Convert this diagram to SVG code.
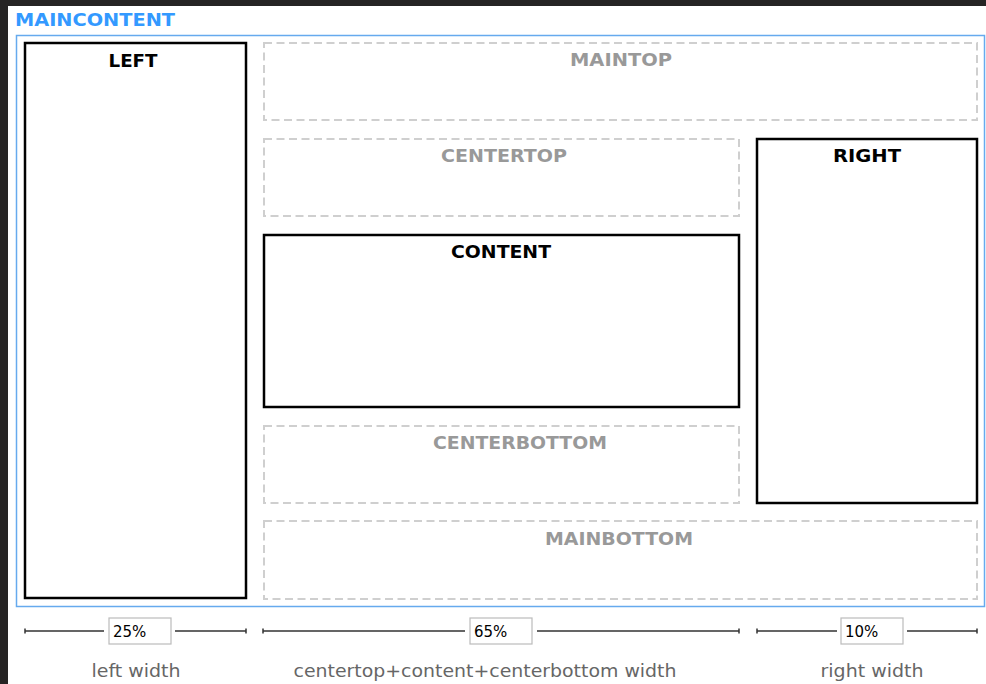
<svg xmlns="http://www.w3.org/2000/svg" width="986" height="684" viewBox="0 0 986 684">
<style>
.solid{fill:none;stroke:#000;stroke-width:2.5}
.dash{fill:none;stroke:#cfcfcf;stroke-width:2;stroke-dasharray:8 4.5}
.t{font-family:"DejaVu Sans",Verdana,sans-serif;font-weight:bold;font-size:18px;text-anchor:middle}
.tb{fill:#000}
.tg{fill:#999}
.lab{font-family:"DejaVu Sans",Verdana,sans-serif;font-size:18px;fill:#666;text-anchor:middle}
.pct{font-family:"DejaVu Sans",Verdana,sans-serif;font-size:15px;fill:#000}
.box{fill:#fff;stroke:#bbb;stroke-width:1.2}
.dim{stroke:#333;stroke-width:1.5;fill:none}
</style>
<rect x="0" y="0" width="986" height="684" fill="#fff"/>
<rect x="0" y="0" width="986" height="6" fill="#262424"/>
<rect x="0" y="0" width="8" height="684" fill="#262424"/>
<g id="maincontent">
<rect x="16.5" y="35.5" width="968" height="571" fill="none" stroke="#66aaee" stroke-width="1.5"/>
<text x="15" y="26" font-family="DejaVu Sans,Verdana,sans-serif" font-weight="bold" font-size="18" fill="#3399ff" textLength="160" lengthAdjust="spacingAndGlyphs">MAINCONTENT</text>
</g>
<g id="left">
<rect class="solid" x="25" y="43" width="221" height="555"/>
<text class="t tb" x="133" y="67" textLength="49" lengthAdjust="spacingAndGlyphs">LEFT</text>
</g>
<g id="maintop">
<rect class="dash" x="264" y="43" width="713" height="77"/>
<text class="t tg" x="621" y="66" textLength="102" lengthAdjust="spacingAndGlyphs">MAINTOP</text>
</g>
<g id="centertop">
<rect class="dash" x="264" y="139" width="475" height="77"/>
<text class="t tg" x="504" y="162" textLength="126" lengthAdjust="spacingAndGlyphs">CENTERTOP</text>
</g>
<g id="content">
<rect class="solid" x="264" y="235" width="475" height="172"/>
<text class="t tb" x="501" y="258" textLength="100" lengthAdjust="spacingAndGlyphs">CONTENT</text>
</g>
<g id="centerbottom">
<rect class="dash" x="264" y="426" width="475" height="77"/>
<text class="t tg" x="520" y="449" textLength="174" lengthAdjust="spacingAndGlyphs">CENTERBOTTOM</text>
</g>
<g id="mainbottom">
<rect class="dash" x="264" y="521" width="713" height="78"/>
<text class="t tg" x="619" y="545" textLength="148" lengthAdjust="spacingAndGlyphs">MAINBOTTOM</text>
</g>
<g id="right">
<rect class="solid" x="757" y="139" width="220" height="364"/>
<text class="t tb" x="867" y="162" textLength="68" lengthAdjust="spacingAndGlyphs">RIGHT</text>
</g>
<g id="connectors">
<path class="dim" d="M25 631H104M175 631H246M25 628.5V633.5M246 628.5V633.5"/>
<path class="dim" d="M263 631H465M537 631H739M263 628.5V633.5M739 628.5V633.5"/>
<path class="dim" d="M757 631H837M907 631H977M757 628.5V633.5M977 628.5V633.5"/>
</g>
<g id="left-width">
<rect class="box" x="109" y="618" width="62" height="26"/>
<text class="pct" x="113" y="637">25%</text>
<text class="lab" x="136" y="677" textLength="89" lengthAdjust="spacingAndGlyphs">left width</text>
</g>
<g id="center-width">
<rect class="box" x="470" y="618" width="62" height="26"/>
<text class="pct" x="474" y="637">65%</text>
<text class="lab" x="485" y="677" textLength="383" lengthAdjust="spacingAndGlyphs">centertop+content+centerbottom width</text>
</g>
<g id="right-width">
<rect class="box" x="841" y="618" width="62" height="26"/>
<text class="pct" x="845" y="637">10%</text>
<text class="lab" x="872" y="677" textLength="103" lengthAdjust="spacingAndGlyphs">right width</text>
</g>
</svg>
